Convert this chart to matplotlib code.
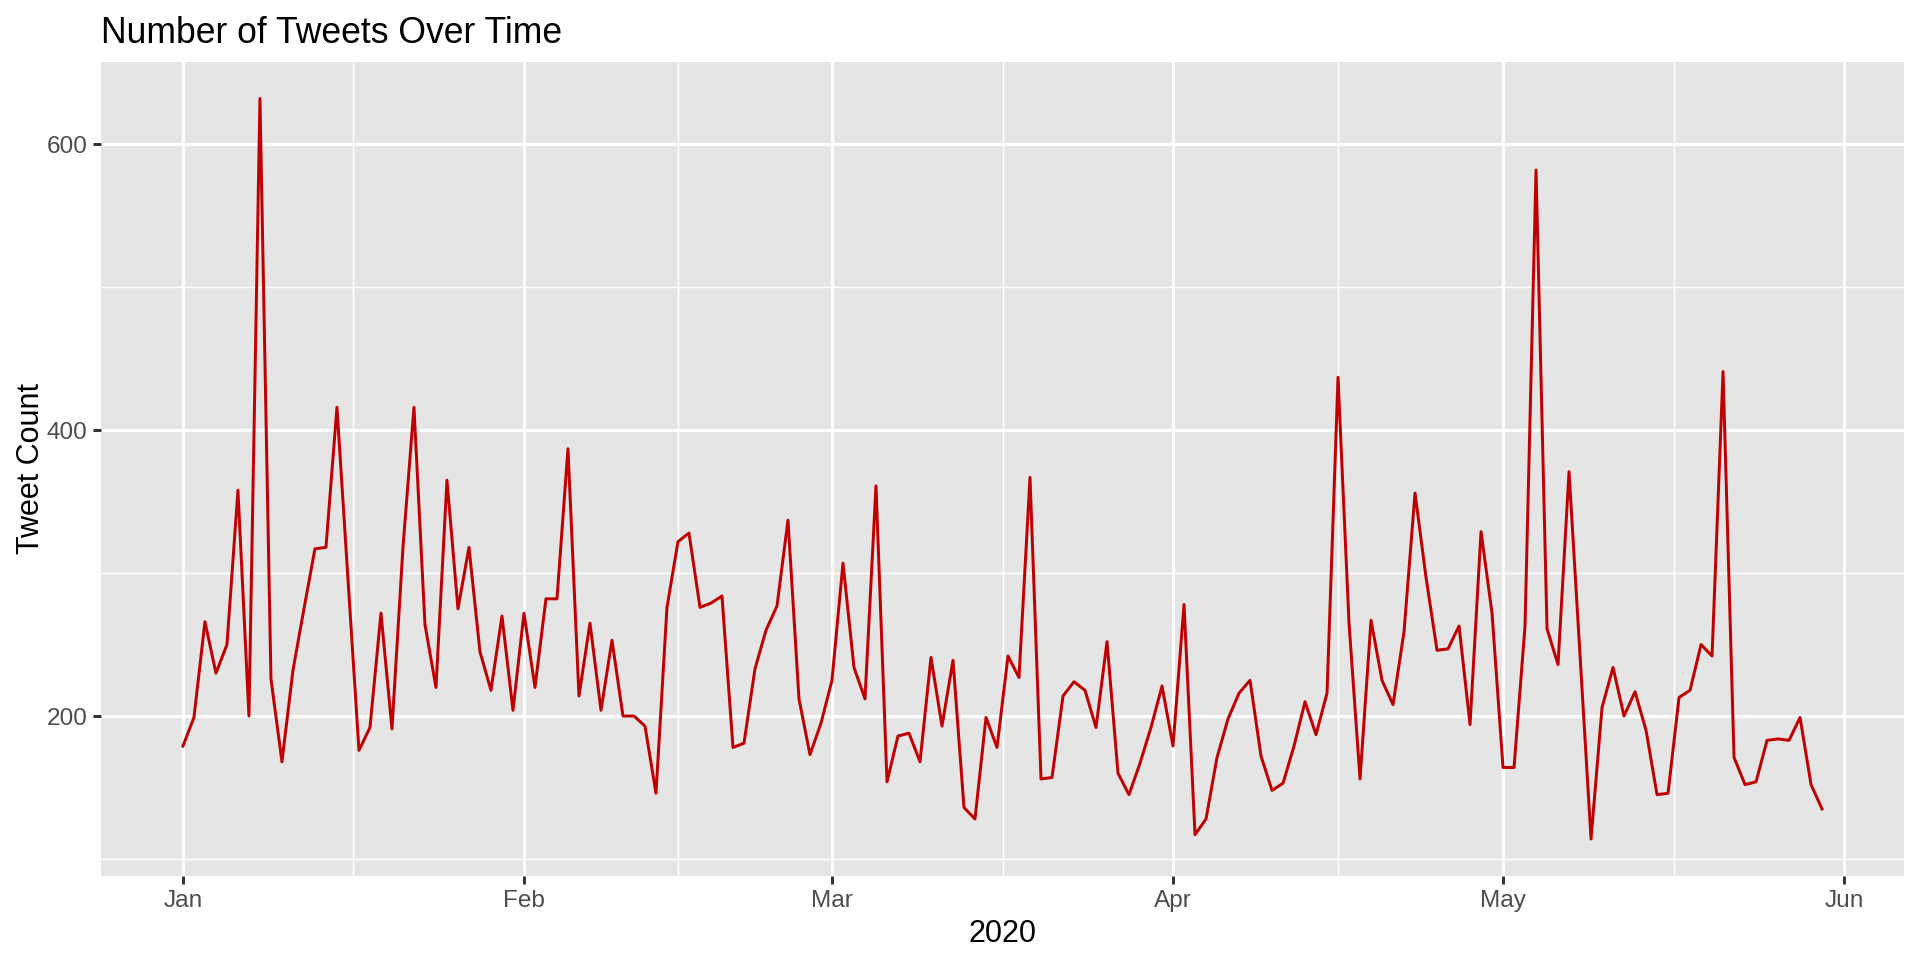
# -*- coding: utf-8 -*-
"""
Daily tweet counts, ggplot-like line chart
"""
import datetime as dt

import matplotlib
matplotlib.use("Agg")
import matplotlib.pyplot as plt
import matplotlib.dates as mdates

# the date axis in the reference has a 28-day February, so a non-leap year is used for positions
START_DATE = dt.date(2021, 1, 1)

tweet_counts = [
    179, 199, 266, 230, 250, 358, 200, 632, 226, 168,
    232, 275, 317, 318, 416, 296, 176, 192, 272, 191,
    318, 416, 264, 220, 365, 275, 318, 245, 218, 270,
    204, 272, 220, 282, 282, 387, 214, 265, 204, 253,
    200, 200, 193, 146, 276, 322, 328, 276, 279, 284,
    178, 181, 233, 260, 277, 337, 212, 173, 195, 225,
    307, 234, 212, 361, 154, 186, 188, 168, 241, 193,
    239, 136, 128, 199, 178, 242, 227, 367, 156, 157,
    214, 224, 218, 192, 252, 160, 145, 167, 192, 221,
    179, 278, 117, 128, 171, 198, 216, 225, 172, 148,
    153, 179, 210, 187, 216, 437, 265, 156, 267, 225,
    208, 259, 356, 297, 246, 247, 263, 194, 329, 272,
    164, 164, 263, 582, 261, 236, 371, 242, 114, 206,
    234, 200, 217, 190, 145, 146, 213, 218, 250, 242,
    441, 171, 152, 154, 183, 184, 183, 199, 152, 135,
]
dates = [START_DATE + dt.timedelta(days=i) for i in range(len(tweet_counts))]

month_labels = ["Jan", "Feb", "Mar", "Apr", "May", "Jun"]
month_starts = [dt.date(2021, m, 1) for m in range(1, 7)]
y_major = [200, 400, 600]
y_minor = [100, 300, 500]

TITLE = "Number of Tweets Over Time"
X_LABEL = "2020"
Y_LABEL = "Tweet Count"

plt.rcParams["font.family"] = ["Liberation Sans", "DejaVu Sans"]

fig = plt.figure(figsize=(9.6, 4.8), dpi=200)
ax = fig.add_axes([101 / 1920, 1 - 876 / 960, (1904 - 101) / 1920, (876 - 61.5) / 960])
ax.set_facecolor("#E5E5E5")
for spine in ax.spines.values():
    spine.set_visible(False)

# ggplot style 5% expansion on both axes
x_nums = mdates.date2num(dates)
x_pad = (x_nums[-1] - x_nums[0]) * 0.05
ax.set_xlim(x_nums[0] - x_pad, x_nums[-1] + x_pad)
y_pad = (max(tweet_counts) - min(tweet_counts)) * 0.05
ax.set_ylim(min(tweet_counts) - y_pad, max(tweet_counts) + y_pad)

major_x = mdates.date2num(month_starts)
minor_x = [(a + b) / 2 for a, b in zip(major_x[:-1], major_x[1:])]

ax.set_xticks(major_x)
ax.set_xticklabels(month_labels)
ax.set_xticks(minor_x, minor=True)
ax.set_yticks(y_major)
ax.set_yticks(y_minor, minor=True)

ax.grid(which="major", color="white", linewidth=1.07)
ax.grid(which="minor", color="white", linewidth=0.53)
ax.set_axisbelow(True)

ax.tick_params(which="major", length=2.75, width=1.07, color="#333333",
               labelsize=8.8, labelcolor="#4D4D4D", pad=2.2)
ax.tick_params(which="minor", length=0)

ax.plot(x_nums, tweet_counts, color="#C00000", linewidth=1.07)

ax.set_title(TITLE, loc="left", fontsize=12.8, color="black", pad=6.6)
ax.set_xlabel(X_LABEL, fontsize=11, color="black", labelpad=2.75)
ax.set_ylabel(Y_LABEL, fontsize=11, color="black", labelpad=0.2)

fig.savefig("out.png", dpi=200, facecolor="white")
